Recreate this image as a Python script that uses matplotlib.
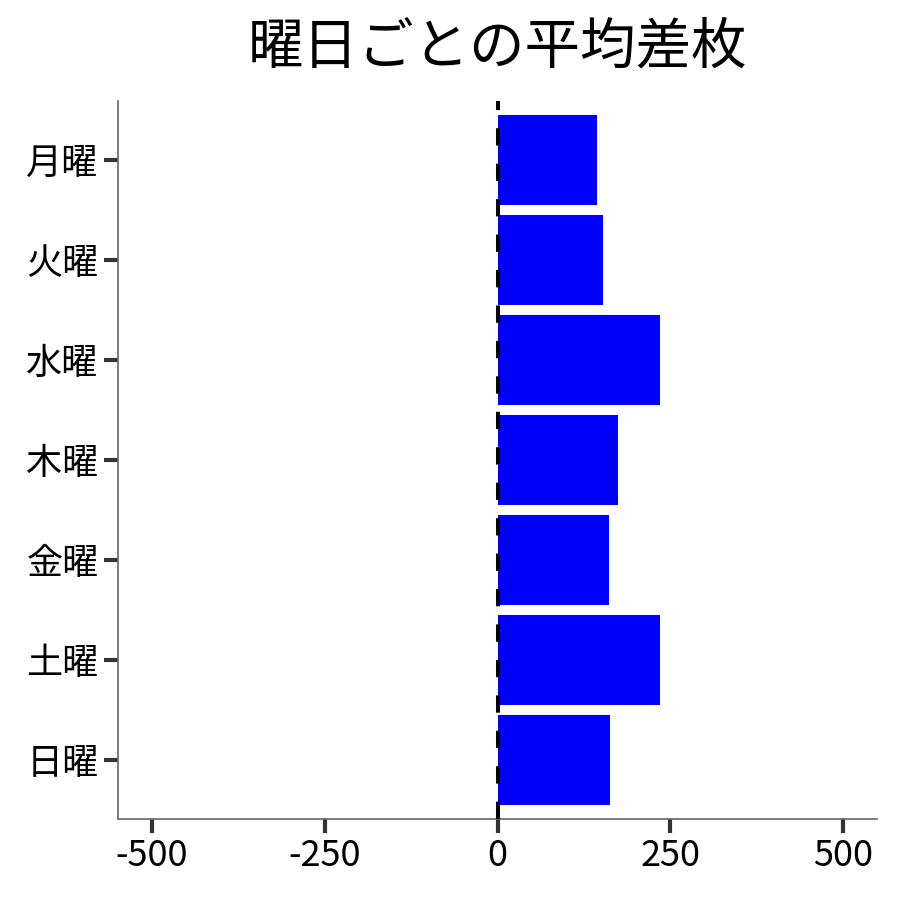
import matplotlib
matplotlib.use("Agg")
import matplotlib.pyplot as plt

plt.rcParams['font.family'] = ['Noto Sans CJK JP', 'DejaVu Sans']

days = ['月曜', '火曜', '水曜', '木曜', '金曜', '土曜', '日曜']
avg_diff = [144, 152, 235, 175, 162, 235, 163]
xticks = [-500, -250, 0, 250, 500]

fig = plt.figure(figsize=(9, 9), dpi=100)
ax = fig.add_axes([118 / 900, 1 - 819 / 900, (877 - 118) / 900, (819 - 101) / 900])

pos = list(range(len(days)))
ax.barh(pos, avg_diff, height=0.9, color='#0000ff', zorder=2)
ax.axvline(0, color='black', linestyle=(0, (4.3, 4.5)), linewidth=2.9, zorder=3)

ax.set_yticks(pos)
ax.set_yticklabels(days)
ax.set_ylim(len(days) - 0.41, -0.59)
ax.set_xlim(-549, 549)
ax.set_xticks(xticks)
ax.set_xticklabels([str(v) for v in xticks])

for side in ['top', 'right']:
    ax.spines[side].set_visible(False)
for side in ['left', 'bottom']:
    ax.spines[side].set_color('#666666')
    ax.spines[side].set_linewidth(1.2)
ax.tick_params(axis='both', length=10, width=3, color='#333333', labelsize=26, pad=4)

ax.set_title('曜日ごとの平均差枚', fontsize=40, pad=27)

fig.savefig('out.png', dpi=100)
